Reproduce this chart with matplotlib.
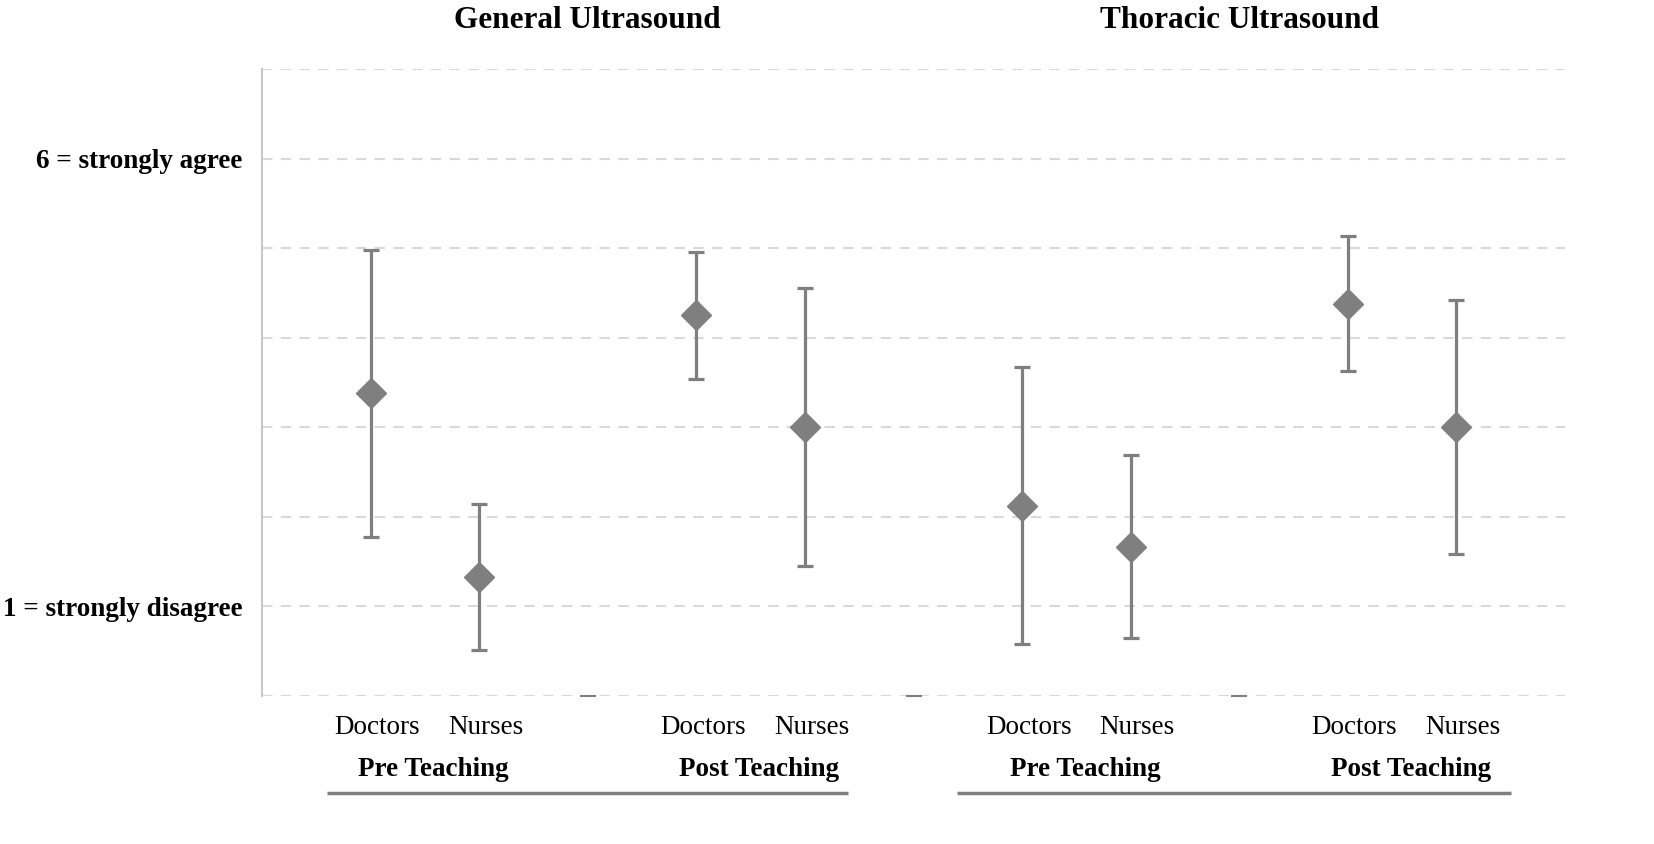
import matplotlib
matplotlib.use("Agg")
import matplotlib.pyplot as plt
import numpy as np

plt.rcParams['font.family'] = ['Liberation Serif', 'DejaVu Serif']

# ---- data ----
panels = ["General Ultrasound", "Thoracic Ultrasound"]
phases = ["Pre Teaching", "Post Teaching"]
groups = ["Doctors", "Nurses"]
# order: General Pre D, N, General Post D, N, Thoracic Pre D, N, Thoracic Post D, N
means = [3.38, 1.33, 4.25, 3.00, 2.12, 1.66, 4.38, 3.00]
upper = [4.98, 2.14, 4.96, 4.55, 3.67, 2.69, 5.14, 4.42]
lower = [1.78, 0.51, 3.54, 1.45, 0.58, 0.65, 3.63, 1.58]
blank_values = [0.0, 0.0, 0.0]
ytick_vals = [1, 6]
ytick_labels = ["1 = strongly disagree", "6 = strongly agree"]

# ---- layout ----
W, H = 1654, 844
fig = plt.figure(figsize=(W / 100, H / 100), dpi=100)
ax = fig.add_axes([262 / W, 1 - 696 / H, (1565 - 262) / W, (696 - 69) / H])

# category positions: pairs separated by one blank slot
xpos = []
blank_x = []
k = 1
for p in range(len(panels) * len(phases)):
    for g in range(len(groups)):
        xpos.append(k)
        k += 1
    if p < len(panels) * len(phases) - 1:
        blank_x.append(k)
        k += 1
xpos = np.array(xpos, dtype=float)
means_a = np.array(means)
yerr = np.vstack([means_a - np.array(lower), np.array(upper) - means_a])

col = '#7f7f7f'
ax.errorbar(xpos, means_a, yerr=yerr, fmt='D', color=col, ecolor=col,
            markersize=15, elinewidth=2.3, capsize=6, capthick=2.3, zorder=3)
ax.plot(blank_x, blank_values, linestyle='none', marker='_', markersize=11,
        markeredgewidth=1.5, color=col, zorder=3, clip_on=False)

ax.set_xlim(0, 12)
ax.set_ylim(0, 7)
ax.set_yticks(range(0, 8))
ax.set_yticklabels(["" if v not in ytick_vals else ytick_labels[ytick_vals.index(v)]
                    for v in range(0, 8)], fontsize=19.5, fontweight='bold')
ax.tick_params(axis='y', length=0, pad=14)
ax.set_xticks([])
ax.yaxis.grid(True, linestyle=(0, (5, 4)), color='#d9d9d9', linewidth=1.5)
ax.set_axisbelow(True)
for s in ['top', 'right', 'bottom']:
    ax.spines[s].set_visible(False)
ax.spines['left'].set_color('#c8c8c8')
ax.spines['left'].set_linewidth(1.5)

trans = ax.get_xaxis_transform()
def ay(py):
    return (696 - py) / (696 - 69)

# category labels
for i, x in enumerate(xpos):
    ax.text(x + 0.06, ay(727), groups[i % 2], transform=trans, ha='center', va='center',
            fontsize=19.5, clip_on=False)

# phase labels
for p in range(len(panels) * len(phases)):
    cx = (xpos[2 * p] + xpos[2 * p + 1]) / 2
    ax.text(cx + 0.08, ay(769), phases[p % 2], transform=trans, ha='center', va='center',
            fontsize=19.5, fontweight='bold', clip_on=False)

# underlines and panel titles
line_spans = [(0.6, 5.4), (6.4, 11.5)]
for i, name in enumerate(panels):
    x0, x1 = line_spans[i]
    ax.plot([x0, x1], [ay(793), ay(793)], transform=trans, color=col, linewidth=2.5,
            clip_on=False, solid_capstyle='butt')
    cx = blank_x[0] if i == 0 else blank_x[2]
    ax.text(cx, ay(20), name, transform=trans, ha='center', va='center',
            fontsize=22.5, fontweight='bold', clip_on=False)

fig.savefig("out.png", dpi=100)
